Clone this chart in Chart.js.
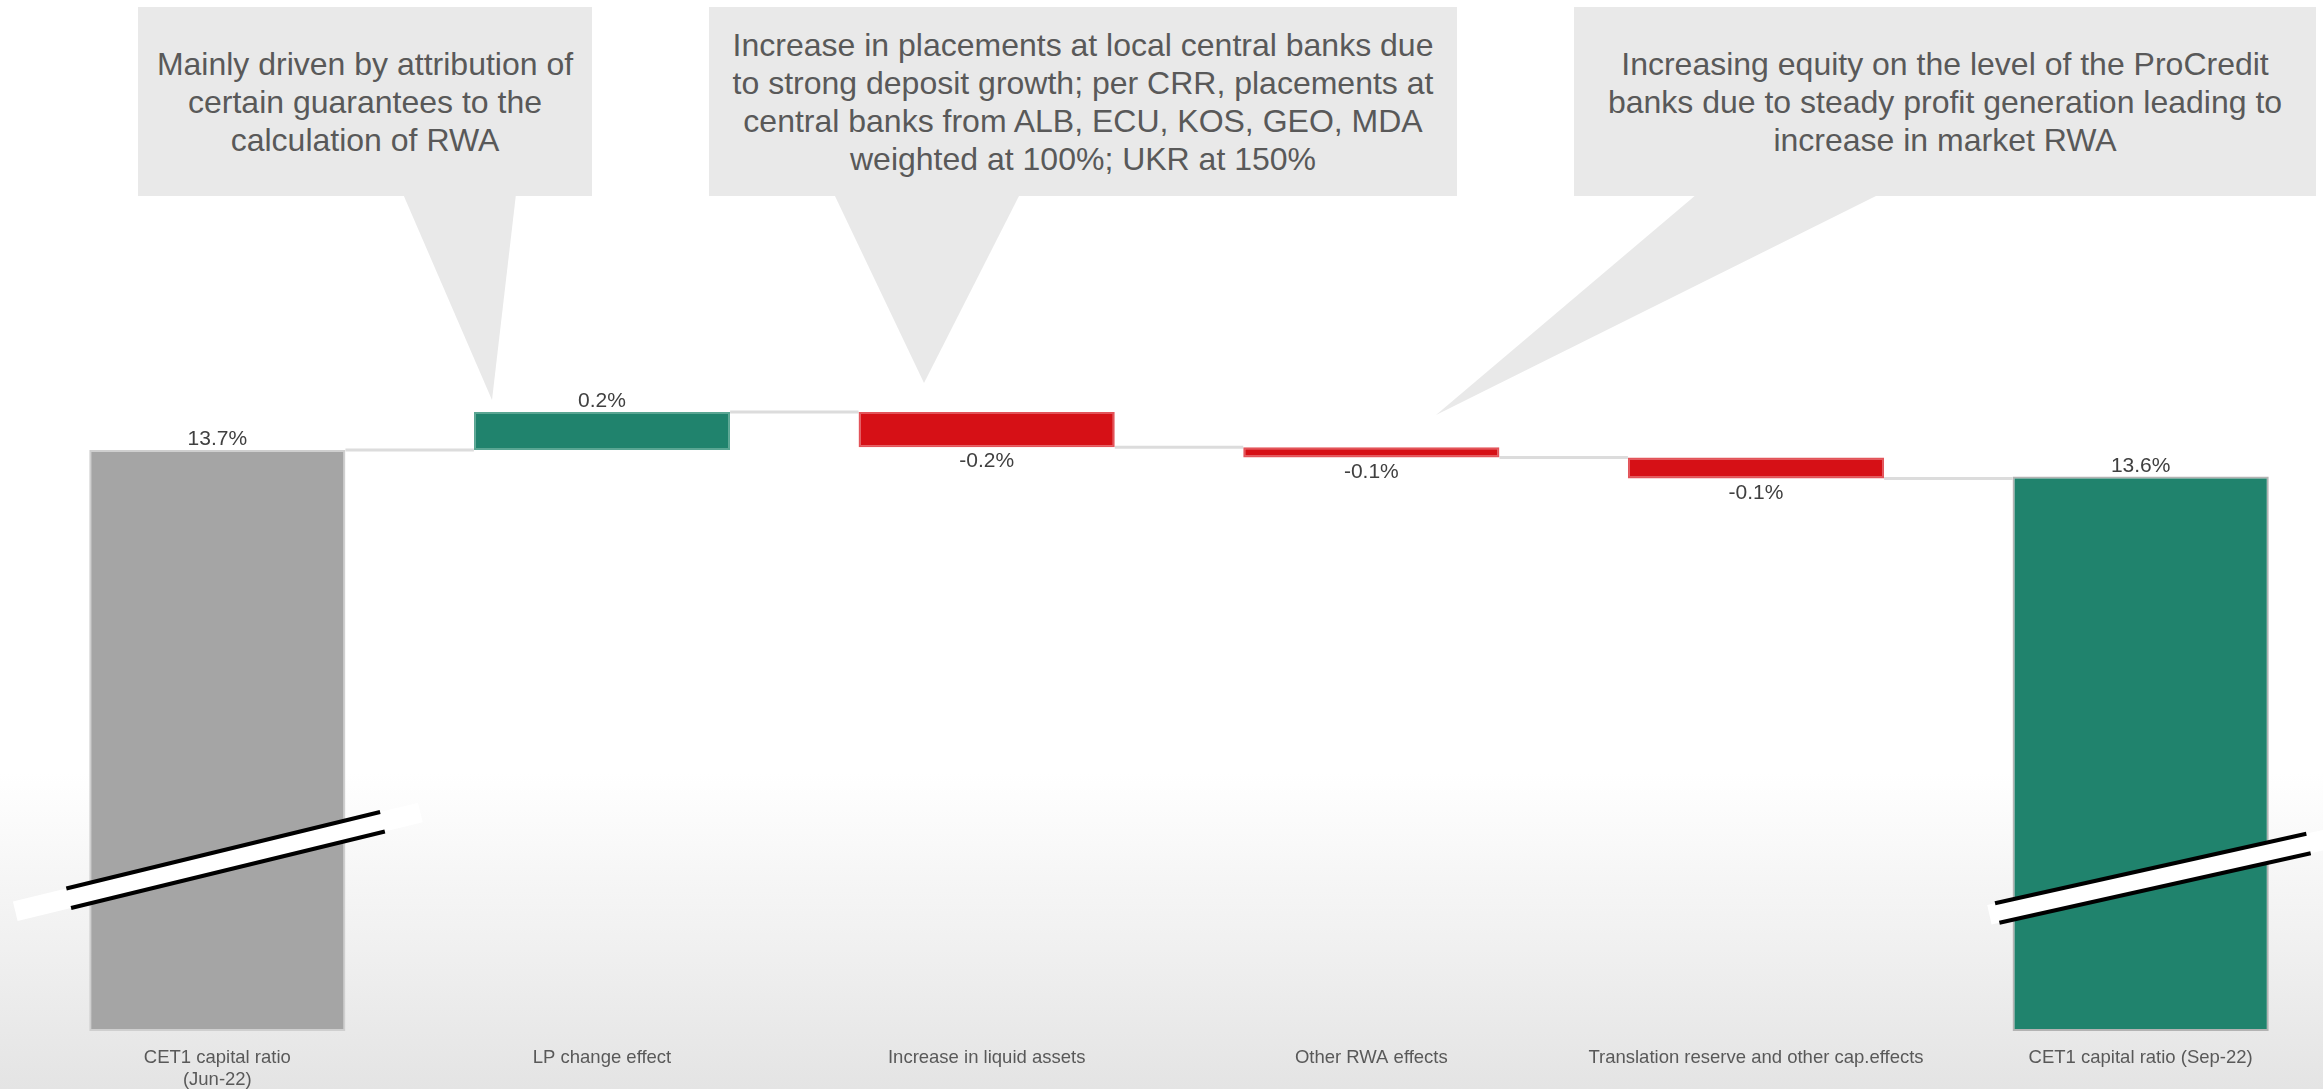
<!DOCTYPE html>
<html>
<head>
<meta charset="utf-8">
<script src="https://cdn.jsdelivr.net/npm/chart.js@4.4.1/dist/chart.umd.min.js"></script>
<style>
  html, body { margin: 0; padding: 0; }
  body {
    width: 2323px; height: 1089px; overflow: hidden; position: relative;
    background: linear-gradient(to bottom, #ffffff 0%, #ffffff 71%, #e4e4e4 100%);
  }
  #wrap { position: absolute; left: 0; top: 0; width: 2334px; height: 1089px; }
  .callout {
    position: absolute; top: 7px; height: 189px;
    background: #e9e9e9; color: #595959;
    display: flex; align-items: center; justify-content: center;
    text-align: center; white-space: nowrap;
    font-family: "Liberation Sans", Arial, sans-serif;
    font-size: 32px; line-height: 38px;
  }
</style>
</head>
<body>
<div id="wrap"><canvas id="waterfall" width="2334" height="1089"></canvas></div>

<div class="callout" style="left:138px; width:454px;">
  <div>Mainly driven by attribution of<br>certain guarantees to the<br>calculation of RWA</div>
</div>
<div class="callout" style="left:709px; width:748px;">
  <div>Increase in placements at local central banks due<br>to strong deposit growth; per CRR, placements at<br>central banks from ALB, ECU, KOS, GEO, MDA<br>weighted at 100%; UKR at 150%</div>
</div>
<div class="callout" style="left:1574px; width:742px;">
  <div>Increasing equity on the level of the ProCredit<br>banks due to steady profit generation leading to<br>increase in market RWA</div>
</div>

<script>
// --- data -------------------------------------------------------------
const categories = [
    ['CET1 capital ratio', '(Jun-22)'],
    'LP change effect',
    'Increase in liquid assets',
    'Other RWA effects',
    'Translation reserve and other cap.effects',
    'CET1 capital ratio (Sep-22)'
];
const values = [13.7, 0.2, -0.185, -0.055, -0.11, 13.56];   // %
const kinds  = ['total', 'delta', 'delta', 'delta', 'delta', 'total'];

// broken axis: only the top part of the scale is shown
const yMin = 10.64;
const yMax = 16.07;

// --- build floating bars from the running total -----------------------
let running = 0;
const ranges = values.map((v, i) => {
    if (kinds[i] === 'total') {
        running = v;
        return [yMin, v];
    }
    const start = running;
    running = start + v;
    return [start, running];
});
const levels = ranges.map(r => r[1]);

const GRAY = '#a5a5a5', GREEN = '#20836d', RED = '#d61016';
const fillColors = values.map((v, i) => {
    if (kinds[i] === 'total') return i === 0 ? GRAY : GREEN;
    return v >= 0 ? GREEN : RED;
});
const edgeColors = values.map((v, i) => {
    if (kinds[i] === 'total') return i === 0 ? '#cfcfcf' : '#b3b3b3';
    return v >= 0 ? '#5aa693' : '#e3545a';
});

// callout tails (pixel positions of the speech bubbles)
const tails = [
    [[403, 194], [516, 194], [492, 400]],
    [[834, 194], [1020, 194], [924, 383]],
    [[1697, 194], [1880, 194], [1436, 415]]
];

// axis-break decorations on the two total bars
const breaks = [
    { index: 0, rise: 169, angle: -13.7, band: [-208, 209], line: [-153, 170] },
    { index: 5, rise: 150, angle: -12.6, band: [-155, 200], line: [-147, 172] }
];

const tailPlugin = {
    id: 'tails',
    beforeDatasetsDraw(chart) {
        const ctx = chart.ctx;
        ctx.save();
        ctx.fillStyle = '#e9e9e9';
        tails.forEach(t => {
            ctx.beginPath();
            ctx.moveTo(t[0][0], t[0][1]);
            ctx.lineTo(t[1][0], t[1][1]);
            ctx.lineTo(t[2][0], t[2][1]);
            ctx.closePath();
            ctx.fill();
        });
        ctx.restore();
    }
};

const connectorPlugin = {
    id: 'connectors',
    beforeDatasetsDraw(chart) {
        const ctx = chart.ctx;
        const bars = chart.getDatasetMeta(0).data;
        const y = chart.scales.y;
        ctx.save();
        ctx.strokeStyle = '#dcdcdc';
        ctx.lineWidth = 3;
        for (let i = 0; i < bars.length - 1; i++) {
            const py = y.getPixelForValue(levels[i]);
            ctx.beginPath();
            ctx.moveTo(bars[i].x + bars[i].width / 2, py);
            ctx.lineTo(bars[i + 1].x - bars[i + 1].width / 2, py);
            ctx.stroke();
        }
        ctx.restore();
    }
};

const labelPlugin = {
    id: 'valueLabels',
    afterDatasetsDraw(chart) {
        const ctx = chart.ctx;
        const bars = chart.getDatasetMeta(0).data;
        ctx.save();
        ctx.font = '21px "Liberation Sans", Arial, sans-serif';
        ctx.fillStyle = '#404040';
        ctx.textAlign = 'center';
        bars.forEach((bar, i) => {
            const top = Math.min(bar.y, bar.base);
            const bottom = Math.max(bar.y, bar.base);
            const txt = values[i].toFixed(1) + '%';
            if (values[i] >= 0) {
                ctx.textBaseline = 'alphabetic';
                ctx.fillText(txt, bar.x, top - 5);
            } else {
                ctx.textBaseline = 'top';
                ctx.fillText(txt, bar.x, bottom + 4);
            }
        });

        // break marks
        breaks.forEach(b => {
            const bar = bars[b.index];
            ctx.save();
            ctx.translate(bar.x, chart.chartArea.bottom - b.rise);
            ctx.rotate(b.angle * Math.PI / 180);
            ctx.fillStyle = '#ffffff';
            ctx.fillRect(b.band[0], -10, b.band[1] - b.band[0], 20);
            ctx.fillStyle = '#000000';
            ctx.fillRect(b.line[0], -12, b.line[1] - b.line[0], 4);
            ctx.fillRect(b.line[0], 8, b.line[1] - b.line[0], 4);
            ctx.restore();
        });
        ctx.restore();
    }
};

new Chart(document.getElementById('waterfall').getContext('2d'), {
    type: 'bar',
    data: {
        labels: categories,
        datasets: [{
            data: ranges,
            backgroundColor: fillColors,
            borderColor: edgeColors,
            borderWidth: 2,
            borderSkipped: false,
            barPercentage: 0.666,
            categoryPercentage: 1
        }]
    },
    options: {
        responsive: false,
        animation: false,
        layout: { padding: { left: 25, right: 1, top: 0, bottom: 0 } },
        plugins: { legend: { display: false }, tooltip: { enabled: false } },
        scales: {
            x: {
                grid: { display: false, drawTicks: false },
                border: { display: false },
                ticks: {
                    color: '#595959',
                    padding: 16,
                    maxRotation: 0,
                    autoSkip: false,
                    font: { family: '"Liberation Sans", Arial, sans-serif', size: 18.5, lineHeight: 1.17 }
                },
                afterFit(scale) { scale.height = 58; }
            },
            y: {
                display: false,
                min: yMin,
                max: yMax
            }
        }
    },
    plugins: [tailPlugin, connectorPlugin, labelPlugin]
});
</script>
</body>
</html>
